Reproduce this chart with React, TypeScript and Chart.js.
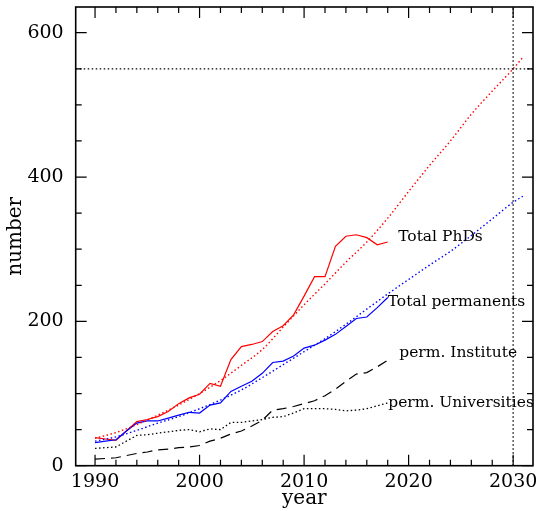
import React, { useEffect, useRef } from "react";
import { Chart, registerables } from "chart.js";

Chart.register(...registerables);

// ---- data ----
const years = [
  1990, 1991, 1992, 1993, 1994, 1995, 1996, 1997, 1998, 1999,
  2000, 2001, 2002, 2003, 2004, 2005, 2006, 2007, 2008, 2009,
  2010, 2011, 2012, 2013, 2014, 2015, 2016, 2017, 2018,
];
const totalPhDs = [
  39, 37, 35, 48, 61, 64, 68, 75, 86, 94,
  99, 114, 110, 147, 165, 168, 172, 186, 194, 209,
  235, 262, 262, 304, 318, 320, 316, 306, 310,
];
const totalPermanents = [
  32, 34, 36, 48, 59, 62, 62, 66, 70, 74,
  73, 84, 87, 103, 110, 117, 128, 143, 145, 152,
  163, 167, 174, 182, 193, 204, 206, 219, 233,
];
const permInstitute = [
  9, 10, 11, 14, 17, 19, 22, 23, 25, 26,
  28, 34, 38, 44, 48, 55, 63, 77, 79, 82,
  86, 90, 97, 106, 117, 127, 129, 137, 146,
];
const permUniversities = [
  24, 25, 26, 34, 42, 43, 45, 47, 49, 50,
  47, 51, 50, 60, 60, 62, 64, 67, 68, 73,
  79, 79, 79, 78, 76, 77, 79, 83, 87,
];

const projYears = [
  1990, 1992, 1994, 1996, 1998, 2000, 2002, 2004, 2006, 2008, 2010,
  2012, 2014, 2016, 2018, 2020, 2022, 2024, 2026, 2028, 2030, 2031,
];
const projPhDs = [
  38, 46, 57, 70, 84, 100, 118, 139, 161, 192, 223,
  252, 282, 310, 343, 380, 416, 450, 487, 519, 550, 567,
];
const projPermanents = [
  34, 40, 49, 59, 68, 79, 91, 105, 122, 140, 158,
  176, 196, 217, 238, 258, 278, 297, 319, 342, 365, 374,
];

const targetYear = 2030;
const targetValue = 550;

const xTickValues = [
  1990, 1992, 1994, 1996, 1998, 2000, 2002, 2004, 2006, 2008, 2010,
  2012, 2014, 2016, 2018, 2020, 2022, 2024, 2026, 2028, 2030,
];
const xMajorTicks = [1990, 2000, 2010, 2020, 2030];
const yTickValues = [0, 50, 100, 150, 200, 250, 300, 350, 400, 450, 500, 550, 600];
const yMajorTicks = [0, 200, 400, 600];

const seriesLabels = ["Total PhDs", "Total permanents", "perm. Institute", "perm. Universities"];
const seriesLabelYears = [2019.0, 2018.0, 2019.1, 2018.05];
const seriesLabelValues = [316.5, 227.2, 155.7, 87.3];

const X_MIN = 1988.15;
const X_MAX = 2031.9;
const Y_MIN = 0;
const Y_MAX = 635.6;

const FONT = "'DejaVu Serif', serif";

const toXY = (xs: number[], ys: number[]) => xs.map((x, i) => ({ x, y: ys[i] }));

const framePlugin = {
  id: "frameTicks",
  afterDraw(chart: any) {
    const { ctx, chartArea: a, scales } = chart;
    const xs = scales.x;
    const ys = scales.y;
    ctx.save();
    ctx.setLineDash([]);
    ctx.strokeStyle = "#000";
    ctx.lineWidth = 1.2;
    ctx.beginPath();
    xTickValues.forEach((v) => {
      const px = xs.getPixelForValue(v);
      const len = xMajorTicks.includes(v) ? 11 : 6;
      ctx.moveTo(px, a.bottom);
      ctx.lineTo(px, a.bottom - len);
      ctx.moveTo(px, a.top);
      ctx.lineTo(px, a.top + len);
    });
    yTickValues.forEach((v) => {
      const py = ys.getPixelForValue(v);
      const len = yMajorTicks.includes(v) ? 11 : 6;
      ctx.moveTo(a.left, py);
      ctx.lineTo(a.left + len, py);
      ctx.moveTo(a.right, py);
      ctx.lineTo(a.right - len, py);
    });
    ctx.stroke();
    ctx.lineWidth = 1.6;
    ctx.strokeRect(a.left, a.top, a.right - a.left, a.bottom - a.top);

    ctx.font = `15.5px ${FONT}`;
    ctx.fillStyle = "#000";
    ctx.textAlign = "left";
    ctx.textBaseline = "middle";
    seriesLabels.forEach((t, i) => {
      ctx.fillText(t, xs.getPixelForValue(seriesLabelYears[i]), ys.getPixelForValue(seriesLabelValues[i]));
    });
    ctx.restore();
  },
};

export default function App() {
  const canvasRef = useRef<HTMLCanvasElement | null>(null);

  useEffect(() => {
    const canvas = canvasRef.current;
    if (!canvas) return;
    const dotted = [1.5, 2.5];
    const chart = new Chart(canvas, {
      type: "line",
      data: {
        datasets: [
          {
            label: "target",
            data: [{ x: X_MIN, y: targetValue }, { x: X_MAX, y: targetValue }],
            borderColor: "#000",
            borderWidth: 1.3,
            borderDash: dotted,
            pointRadius: 0,
          },
          {
            label: "target year",
            data: [{ x: targetYear, y: Y_MIN }, { x: targetYear, y: Y_MAX }],
            borderColor: "#000",
            borderWidth: 1.3,
            borderDash: dotted,
            pointRadius: 0,
          },
          {
            label: "PhD projection",
            data: toXY(projYears, projPhDs),
            borderColor: "#ff0000",
            borderWidth: 1.4,
            borderDash: dotted,
            pointRadius: 0,
            cubicInterpolationMode: "monotone",
          },
          {
            label: "Permanent projection",
            data: toXY(projYears, projPermanents),
            borderColor: "#0000ff",
            borderWidth: 1.4,
            borderDash: dotted,
            pointRadius: 0,
            cubicInterpolationMode: "monotone",
          },
          {
            label: "perm. Universities",
            data: toXY(years, permUniversities),
            borderColor: "#000",
            borderWidth: 1.3,
            borderDash: dotted,
            pointRadius: 0,
          },
          {
            label: "perm. Institute",
            data: toXY(years, permInstitute),
            borderColor: "#000",
            borderWidth: 1.2,
            borderDash: [10, 6],
            pointRadius: 0,
          },
          {
            label: "Total permanents",
            data: toXY(years, totalPermanents),
            borderColor: "#0000ff",
            borderWidth: 1.2,
            pointRadius: 0,
          },
          {
            label: "Total PhDs",
            data: toXY(years, totalPhDs),
            borderColor: "#ff0000",
            borderWidth: 1.2,
            pointRadius: 0,
          },
        ],
      },
      options: {
        responsive: false,
        animation: false,
        devicePixelRatio: 1,
        layout: { padding: { left: 0, right: 3, top: 7, bottom: 0 } },
        plugins: { legend: { display: false }, tooltip: { enabled: false } },
        elements: { line: { fill: false, tension: 0 } },
        scales: {
          x: {
            type: "linear",
            min: X_MIN,
            max: X_MAX,
            grid: { display: false, drawTicks: false },
            border: { display: false },
            afterBuildTicks: (s: any) => {
              s.ticks = xTickValues.map((v) => ({ value: v }));
            },
            afterFit: (s: any) => {
              s.height = 45.3;
              s.paddingLeft = 0;
              s.paddingRight = 0;
              s.paddingTop = 0;
              s.paddingBottom = 0;
            },
            ticks: {
              autoSkip: false,
              maxRotation: 0,
              padding: 4.5,
              color: "#000",
              font: { family: FONT, size: 19 },
              callback: (v: any) => (xMajorTicks.includes(Number(v)) ? String(v) : ""),
            },
            title: {
              display: true,
              text: "year",
              color: "#000",
              font: { family: FONT, size: 20 },
              padding: { top: 0, bottom: 0 },
            },
          },
          y: {
            type: "linear",
            min: Y_MIN,
            max: Y_MAX,
            grid: { display: false, drawTicks: false },
            border: { display: false },
            afterBuildTicks: (s: any) => {
              s.ticks = yTickValues.map((v) => ({ value: v }));
            },
            afterFit: (s: any) => {
              s.width = 75.7;
              s.paddingLeft = 0;
              s.paddingRight = 0;
              s.paddingTop = 0;
              s.paddingBottom = 0;
            },
            ticks: {
              autoSkip: false,
              padding: 12,
              color: "#000",
              font: { family: FONT, size: 19 },
              callback: (v: any) => (yMajorTicks.includes(Number(v)) ? String(v) : ""),
            },
            title: {
              display: true,
              text: "number",
              color: "#000",
              font: { family: FONT, size: 20 },
              padding: { top: 3.5, bottom: 0 },
            },
          },
        },
      },
      plugins: [framePlugin],
    } as any);
    return () => chart.destroy();
  }, []);

  return (
    <div style={{ position: "absolute", left: 0, top: 0, width: 536, height: 511, background: "#fff" }}>
      <canvas ref={canvasRef} width={536} height={511} style={{ display: "block" }} />
    </div>
  );
}
